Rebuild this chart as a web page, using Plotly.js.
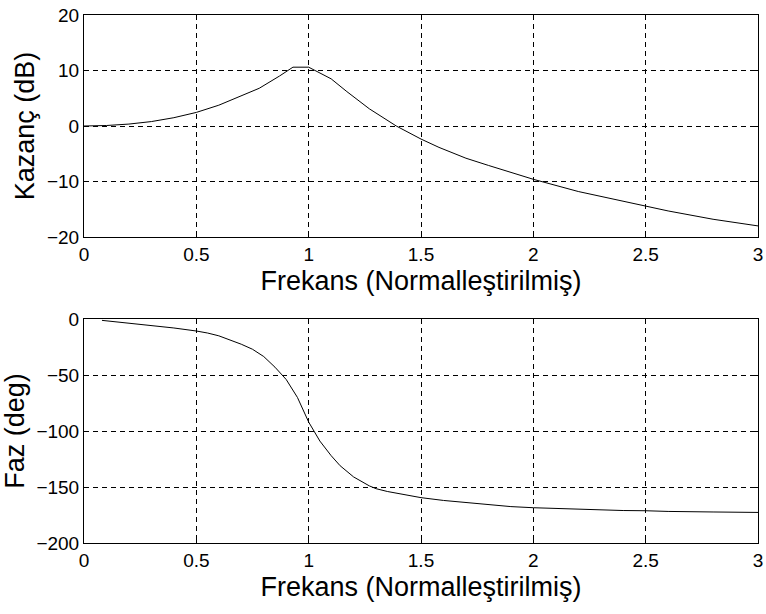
<!DOCTYPE html>
<html>
<head>
<meta charset="utf-8">
<script src="https://cdn.plot.ly/plotly-3.0.1.min.js"></script>
<style>html,body{margin:0;padding:0;background:#fff}#chart{width:766px;height:614px}</style>
</head>
<body>
<div id="chart"></div>
<script>
// Gain (top)
const gainFreq = [0, 0.1, 0.2, 0.3, 0.4, 0.5, 0.6, 0.7, 0.78, 0.87, 0.93, 1.0, 1.02, 1.1, 1.17, 1.27, 1.39, 1.5, 1.58, 1.7, 1.8, 1.9, 2.0, 2.2, 2.4, 2.5, 2.6, 2.8, 3.0];
const gainDb   = [0, 0.09, 0.35, 0.8, 1.5, 2.45, 3.75, 5.4, 6.8, 9.0, 10.6, 10.6, 10.2, 8.5, 6.2, 3.1, 0.0, -2.35, -3.85, -5.8, -7.1, -8.4, -9.6, -11.8, -13.6, -14.4, -15.3, -16.8, -18.0];

// Phase (bottom)
const phaseFreq = [0.08, 0.2, 0.3, 0.4, 0.5, 0.55, 0.6, 0.65, 0.7, 0.75, 0.8, 0.85, 0.9, 0.95, 1.0, 1.05, 1.1, 1.14, 1.2, 1.27, 1.3, 1.35, 1.4, 1.5, 1.6, 1.7, 1.8, 1.9, 2.0, 2.2, 2.4, 2.5, 2.6, 2.8, 3.0];
const phaseDeg  = [-1.2, -3.6, -5.6, -8.0, -10.7, -12.5, -15, -18.5, -22.5, -27, -33.5, -43, -54, -70, -92, -109, -122, -131, -141, -149, -151.5, -154, -156, -159.5, -162, -164, -166, -167.5, -168.5, -170, -171, -171.2, -171.8, -172.3, -172.7];

const xTicks = [0, 0.5, 1, 1.5, 2, 2.5, 3];
const xTickText = ['0', '0.5', '1', '1.5', '2', '2.5', '3'];
const gainTicks = [-20, -10, 0, 10, 20];
const phaseTicks = [-200, -150, -100, -50, 0];

const xTitle = 'Frekans (Normalleştirilmiş)';
const gainTitle = 'Kazanç (dB)';
const phaseTitle = 'Faz (deg)';

const FONT = 'Liberation Sans, Arial, sans-serif';

const lineStyle = {color: '#000', width: 1};

const traces = [
  {x: gainFreq, y: gainDb, type: 'scatter', mode: 'lines', line: lineStyle, xaxis: 'x', yaxis: 'y', hoverinfo: 'skip'},
  {x: phaseFreq, y: phaseDeg, type: 'scatter', mode: 'lines', line: lineStyle, xaxis: 'x2', yaxis: 'y2', hoverinfo: 'skip'}
];

function xAxis(anchor) {
  return {
    anchor: anchor, domain: [0, 1], range: [0, 3],
    tickvals: xTicks, ticktext: xTickText,
    showgrid: true, gridcolor: '#000', gridwidth: 1, griddash: '5px,4px',
    showline: true, linecolor: '#000', linewidth: 1, mirror: 'ticks',
    ticks: 'inside', ticklen: 5, tickcolor: '#000',
    zeroline: false,
    tickfont: {family: FONT, size: 19, color: '#000'},
    title: {text: xTitle, font: {family: FONT, size: 27, color: '#000'}, standoff: 7},
    automargin: false, fixedrange: true
  };
}
function yAxis(anchor, dom, rng, ticks, title) {
  return {
    anchor: anchor, domain: dom, range: rng,
    tickvals: ticks,
    showgrid: true, gridcolor: '#000', gridwidth: 1, griddash: '5px,4px',
    showline: true, linecolor: '#000', linewidth: 1, mirror: 'ticks',
    ticks: 'inside', ticklen: 5, tickcolor: '#000',
    zeroline: false,
    tickfont: {family: FONT, size: 19, color: '#000'},
    title: {text: title, font: {family: FONT, size: 27, color: '#000'}, standoff: 4},
    automargin: false, fixedrange: true
  };
}

const layout = {
  width: 766, height: 614,
  margin: {l: 84, r: 8, t: 15, b: 71},
  paper_bgcolor: '#fff', plot_bgcolor: '#fff',
  showlegend: false,
  xaxis: xAxis('y'),
  yaxis: yAxis('x', [0.5795, 1], [-20, 20], gainTicks, gainTitle),
  xaxis2: xAxis('y2'),
  yaxis2: yAxis('x2', [0, 0.4242], [-200, 0], phaseTicks, phaseTitle)
};

Plotly.newPlot('chart', traces, layout, {displayModeBar: false, staticPlot: true});
</script>
</body>
</html>
